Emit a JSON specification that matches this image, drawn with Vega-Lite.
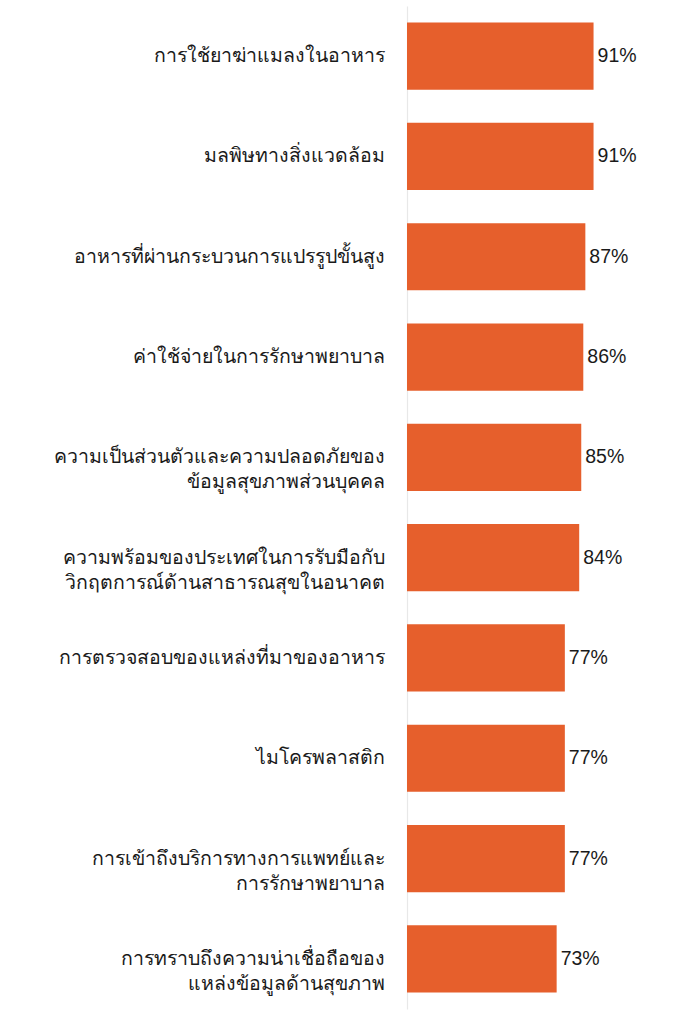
{
  "$schema": "https://vega.github.io/schema/vega-lite/v6.json",
  "autosize": "none",
  "width": 205,
  "height": 1003,
  "padding": {"left": 407, "top": 6, "right": 66, "bottom": 14},
  "background": "white",
  "config": {"view": {"stroke": null}},
  "data": {
    "values": [
      {"item": "การใช้ยาฆ่าแมลงในอาหาร", "pct": 91},
      {"item": "มลพิษทางสิ่งแวดล้อม", "pct": 91},
      {"item": "อาหารที่ผ่านกระบวนการแปรรูปขั้นสูง", "pct": 87},
      {"item": "ค่าใช้จ่ายในการรักษาพยาบาล", "pct": 86},
      {"item": "ความเป็นส่วนตัวและความปลอดภัยของ\nข้อมูลสุขภาพส่วนบุคคล", "pct": 85},
      {"item": "ความพร้อมของประเทศในการรับมือกับ\nวิกฤตการณ์ด้านสาธารณสุขในอนาคต", "pct": 84},
      {"item": "การตรวจสอบของแหล่งที่มาของอาหาร", "pct": 77},
      {"item": "ไมโครพลาสติก", "pct": 77},
      {"item": "การเข้าถึงบริการทางการแพทย์และ\nการรักษาพยาบาล", "pct": 77},
      {"item": "การทราบถึงความน่าเชื่อถือของ\nแหล่งข้อมูลด้านสุขภาพ", "pct": 73}
    ]
  },
  "encoding": {
    "y": {
      "field": "item",
      "type": "nominal",
      "sort": null,
      "scale": {"paddingInner": 0.33, "paddingOuter": 0.165},
      "axis": {
        "title": null,
        "labels": false,
        "ticks": false,
        "domain": true,
        "domainColor": "#e8e8e8",
        "domainWidth": 1.2
      }
    }
  },
  "layer": [
    {
      "mark": {"type": "bar", "color": "#E65F2C"},
      "encoding": {
        "x": {
          "field": "pct",
          "type": "quantitative",
          "scale": {"domain": [0, 100]},
          "axis": null
        }
      }
    },
    {
      "mark": {
        "type": "text",
        "align": "left",
        "baseline": "middle",
        "dx": 4,
        "font": "Liberation Sans",
        "fontSize": 19.5,
        "color": "#1a1a1a",
        "text": {"expr": "datum.pct + '%'"}
      },
      "encoding": {
        "x": {"field": "pct", "type": "quantitative"}
      }
    },
    {
      "mark": {
        "type": "text",
        "align": "right",
        "baseline": "middle",
        "dx": -22,
        "lineBreak": "\n",
        "lineHeight": 25,
        "font": "Noto Sans",
        "fontSize": 19.5,
        "color": "#1a1a1a"
      },
      "encoding": {
        "x": {"datum": 0, "type": "quantitative"},
        "text": {"field": "item", "type": "nominal"}
      }
    }
  ]
}
